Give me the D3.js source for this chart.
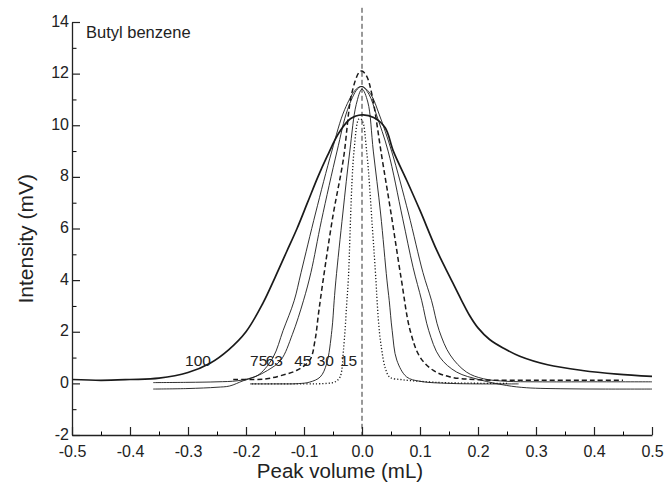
<!DOCTYPE html>
<html>
<head>
<meta charset="utf-8">
<script src="https://cdn.jsdelivr.net/npm/d3@7"></script>
<style>
  body { margin: 0; background: #fff; }
  text { font-family: "Liberation Sans", Arial, sans-serif; fill: #222; }
</style>
</head>
<body>
<div id="chart"></div>
<script>
// peak profiles, x = peak volume (mL), y = intensity (mV)
const x100 = [-0.5, -0.45, -0.4, -0.35, -0.3, -0.262, -0.23, -0.2, -0.171, -0.15, -0.13, -0.112, -0.094, -0.076, -0.06, -0.04, -0.02, 0.0, 0.02, 0.04, 0.054, 0.077, 0.1, 0.129, 0.152, 0.172, 0.185, 0.2, 0.22, 0.245, 0.272, 0.32, 0.38, 0.44, 0.5];
const y100 = [0.15, 0.12, 0.15, 0.2, 0.42, 0.78, 1.3, 2.0, 3.1, 4.1, 5.1, 6.0, 7.0, 8.0, 8.8, 9.7, 10.25, 10.4, 10.3, 9.9, 9.0, 7.87, 6.7, 5.15, 4.1, 3.2, 2.65, 2.15, 1.7, 1.35, 1.05, 0.72, 0.5, 0.36, 0.27];

const x75 = [-0.36, -0.3, -0.25, -0.215, -0.19, -0.176, -0.153, -0.136, -0.117, -0.105, -0.08, -0.052, -0.03, -0.01, 0.0, 0.015, 0.03, 0.051, 0.08, 0.105, 0.12, 0.133, 0.152, 0.18, 0.209, 0.25, 0.3, 0.4, 0.5];
const y75 = [0.03, 0.04, 0.06, 0.1, 0.22, 0.37, 1.02, 2.05, 3.2, 4.3, 6.6, 9.0, 10.6, 11.4, 11.5, 11.2, 10.4, 9.0, 6.6, 4.3, 3.2, 2.05, 1.1, 0.44, 0.18, 0.08, 0.06, 0.06, 0.06];

const x63 = [-0.36, -0.3, -0.25, -0.228, -0.205, -0.185, -0.163, -0.14, -0.12, -0.101, -0.088, -0.07, -0.043, -0.025, -0.008, 0.0, 0.012, 0.025, 0.045, 0.07, 0.088, 0.103, 0.115, 0.134, 0.163, 0.203, 0.249, 0.284, 0.35, 0.42, 0.5];
const y63 = [-0.22, -0.2, -0.15, -0.1, 0.1, 0.25, 0.5, 0.9, 1.9, 3.2, 4.3, 6.3, 9.0, 10.6, 11.4, 11.5, 11.2, 10.4, 9.0, 6.4, 4.5, 3.2, 2.05, 1.02, 0.44, 0.14, -0.08, -0.17, -0.21, -0.22, -0.22];

const x45 = [-0.222, -0.19, -0.164, -0.14, -0.113, -0.09, -0.081, -0.075, -0.067, -0.05, -0.032, -0.018, -0.005, 0.0, 0.008, 0.017, 0.034, 0.05, 0.068, 0.083, 0.1, 0.123, 0.152, 0.203, 0.307, 0.4, 0.45];
const y45 = [0.15, 0.15, 0.18, 0.3, 0.5, 0.9, 1.67, 2.7, 4.0, 6.5, 8.7, 11.2, 12.05, 12.1, 11.9, 11.2, 8.8, 6.6, 4.0, 2.05, 1.02, 0.5, 0.25, 0.14, 0.12, 0.12, 0.12];

const x30 = [-0.193, -0.15, -0.11, -0.09, -0.072, -0.061, -0.052, -0.048, -0.045, -0.033, -0.021, -0.01, 0.0, 0.01, 0.0195, 0.032, 0.043, 0.047, 0.052, 0.06, 0.077, 0.1, 0.15, 0.2, 0.27];
const y30 = [-0.02, -0.02, -0.01, 0.05, 0.25, 0.76, 2.05, 3.2, 4.0, 6.6, 9.0, 10.8, 11.4, 10.9, 9.0, 6.6, 4.0, 3.2, 2.05, 0.9, 0.25, 0.08, 0.0, -0.02, -0.02];

const x15 = [-0.19, -0.1, -0.06, -0.047, -0.038, -0.032, -0.026, -0.0236, -0.0138, -0.005, 0.0, 0.008, 0.018, 0.024, 0.026, 0.03, 0.034, 0.04, 0.048, 0.07, 0.1, 0.15, 0.25];
const y15 = [-0.02, -0.02, 0.0, 0.05, 0.24, 1.28, 3.2, 4.0, 9.0, 10.25, 10.2, 9.0, 6.0, 4.0, 3.2, 2.0, 1.3, 0.6, 0.24, 0.14, 0.08, 0.02, 0.0];

const seriesNames = ['100', '75', '63', '45', '30', '15'];
// where each flow label sits (x, y in data units)
const labelX = [-0.305, -0.193, -0.166, -0.117, -0.078, -0.038];
const labelY = 0.66;

const xTicks = [-0.5, -0.4, -0.3, -0.2, -0.1, 0.0, 0.1, 0.2, 0.3, 0.4, 0.5];
const yTicks = [-2, 0, 2, 4, 6, 8, 10, 12, 14];
const sampleName = 'Butyl benzene';

const width = 670, height = 494;

const svg = d3.select('#chart').append('svg')
    .attr('width', width)
    .attr('height', height);

let x = d3.scaleLinear().domain([-0.5, 0.5]).range([72, 652]);
let y = d3.scaleLinear().domain([-2, 14]).range([435, 22]);

// line styles per series
const styles = {
  '100': { w: 1.7, dash: null },
  '75': { w: 0.9, dash: null },
  '63': { w: 0.9, dash: null },
  '45': { w: 1.5, dash: '5,3' },
  '30': { w: 0.9, dash: null },
  '15': { w: 1.3, dash: '1.2,2' }
};

let allX = [x100, x75, x63, x45, x30, x15];
let allY = [y100, y75, y63, y45, y30, y15];

let line = d3.line()
    .x(d => x(d[0]))
    .y(d => y(d[1]))
    .curve(d3.curveCatmullRom.alpha(0.5));

// zero line
svg.append('line')
    .attr('x1', x(0)).attr('x2', x(0))
    .attr('y1', y(14.55)).attr('y2', y(-2))
    .attr('stroke', '#333')
    .attr('stroke-width', 1)
    .attr('stroke-dasharray', '5,3');

seriesNames.forEach(function(name, i) {
  let pts = allX[i].map((v, j) => [v, allY[i][j]]);
  svg.append('path')
      .datum(pts)
      .attr('fill', 'none')
      .attr('stroke', '#1a1a1a')
      .attr('stroke-width', styles[name].w)
      .attr('stroke-dasharray', styles[name].dash)
      .attr('d', line);

  svg.append('text')
      .attr('x', x(labelX[i]))
      .attr('y', y(labelY))
      .style('font-size', '15.5px')
      .text(name);
});

// minor ticks first, then major ticks with labels
svg.append('g')
    .attr('transform', 'translate(0,' + y(-2) + ')')
    .call(d3.axisBottom(x).tickValues(d3.range(-0.45, 0.5, 0.1)).tickSize(-3.5).tickFormat(''))
    .call(g => g.select('.domain').remove());

svg.append('g')
    .attr('transform', 'translate(' + x(-0.5) + ',0)')
    .call(d3.axisLeft(y).tickValues(d3.range(-1, 14, 2)).tickSize(-4.5).tickFormat(''))
    .call(g => g.select('.domain').remove());

let xAxis = svg.append('g')
    .attr('transform', 'translate(0,' + y(-2) + ')')
    .call(d3.axisBottom(x).tickValues(xTicks).tickSizeInner(-8).tickSizeOuter(0).tickPadding(8.5));

let yAxis = svg.append('g')
    .attr('transform', 'translate(' + x(-0.5) + ',0)')
    .call(d3.axisLeft(y).tickValues(yTicks).tickSizeInner(-8).tickSizeOuter(0).tickPadding(4));

[xAxis, yAxis].forEach(g => {
  g.selectAll('text').style('font-size', '16px').attr('fill', '#222').attr('font-family', null);
  g.selectAll('line').attr('stroke', '#222').attr('stroke-width', 1.2);
  g.select('.domain').attr('stroke', '#222').attr('stroke-width', 1.3);
});
xAxis.selectAll('text').attr('dy', '0.85em');
yAxis.selectAll('text').attr('x', -3).attr('dy', '0.25em');

// minus signs in the picture are plain hyphens
xAxis.selectAll('text').text(d => d3.format('.1f')(d).replace('−', '-'));
yAxis.selectAll('text').text(d => String(d));

svg.append('text')
    .attr('x', 340)
    .attr('y', 478)
    .attr('text-anchor', 'middle')
    .style('font-size', '20.5px')
    .text('Peak volume (mL)');

svg.append('text')
    .attr('transform', 'translate(33,' + y(5.6) + ') rotate(-90)')
    .attr('text-anchor', 'middle')
    .style('font-size', '21px')
    .text('Intensity (mV)');

svg.append('text')
    .attr('x', 86)
    .attr('y', 38)
    .style('font-size', '16.5px')
    .text(sampleName);
</script>
</body>
</html>
